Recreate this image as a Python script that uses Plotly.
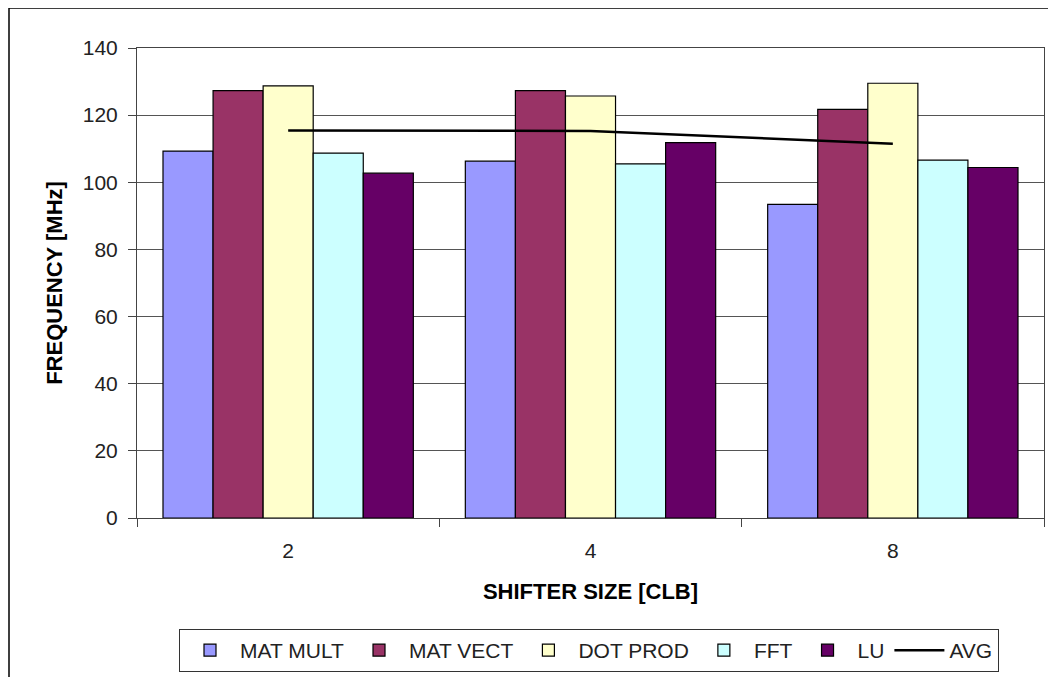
import plotly.graph_objects as go

categories = ["2", "4", "8"]
mat_mult = [109.3, 106.3, 93.4]
mat_vect = [127.3, 127.3, 121.7]
dot_prod = [128.7, 125.7, 129.5]
fft = [108.7, 105.5, 106.6]
lu = [102.7, 111.8, 104.4]
avg = [115.4, 115.3, 111.5]

series = [
    ("MAT MULT", mat_mult, "#9999FF"),
    ("MAT VECT", mat_vect, "#993366"),
    ("DOT PROD", dot_prod, "#FFFFCC"),
    ("FFT", fft, "#CCFFFF"),
    ("LU", lu, "#660066"),
]

fig = go.Figure()
for name, vals, col in series:
    fig.add_trace(go.Bar(
        x=categories, y=vals, name=name,
        marker=dict(color=col, line=dict(color="black", width=1.2)),
    ))
fig.add_trace(go.Scatter(
    x=categories, y=avg, name="AVG", mode="lines",
    line=dict(color="black", width=2.5),
))

font = "Liberation Sans, Arial, sans-serif"
OFF = 8  # page body margin
W, H = 1056, 677
L, R, T, B = 137 - OFF, 12 + OFF, 48 - OFF, 159 + OFF
pw, ph = W - L - R, H - T - B

fig.update_layout(
    width=W, height=H,
    paper_bgcolor="white", plot_bgcolor="white",
    margin=dict(l=L, r=R, t=T, b=B, autoexpand=False),
    barmode="group", bargap=0.172, bargroupgap=0,
    font=dict(family=font, size=21, color="#222222"),
    showlegend=True,
    legend=dict(
        orientation="h", x=(589 - OFF - L) / pw, xanchor="center",
        y=-(629 - OFF - (T + ph)) / ph, yanchor="top",
        bordercolor="#333333", borderwidth=1, font=dict(size=21, color="#222222"),
        itemwidth=50, tracegroupgap=0,
    ),
    xaxis=dict(
        type="category", tickson="boundaries", ticks="outside", ticklen=8,
        tickcolor="#444444", showline=True, linecolor="#444444", linewidth=1,
        mirror=True, showgrid=False, automargin=False,
        ticklabelstandoff=14,
        title=dict(text="<b>SHIFTER SIZE [CLB]</b>", font=dict(size=22, color="black"), standoff=22),
        tickfont=dict(size=21),
    ),
    yaxis=dict(
        range=[0, 140], dtick=20, ticks="outside", ticklen=8, tickcolor="#444444",
        showline=True, linecolor="#444444", linewidth=1, mirror=True,
        showgrid=True, gridcolor="#555555", gridwidth=1, zeroline=False,
        automargin=False, ticklabelstandoff=6,
        title=dict(text="<b>FREQUENCY [MHz]</b>", font=dict(size=22, color="black"), standoff=14),
        tickfont=dict(size=21),
    ),
    shapes=[dict(type="rect", xref="paper", yref="paper",
                 x0=(1 - L) / pw, x1=1.05, y0=-0.5, y1=1 + (T - 0) / ph,
                 line=dict(color="black", width=1.5), layer="below")],
)

fig.write_html("out.html")
